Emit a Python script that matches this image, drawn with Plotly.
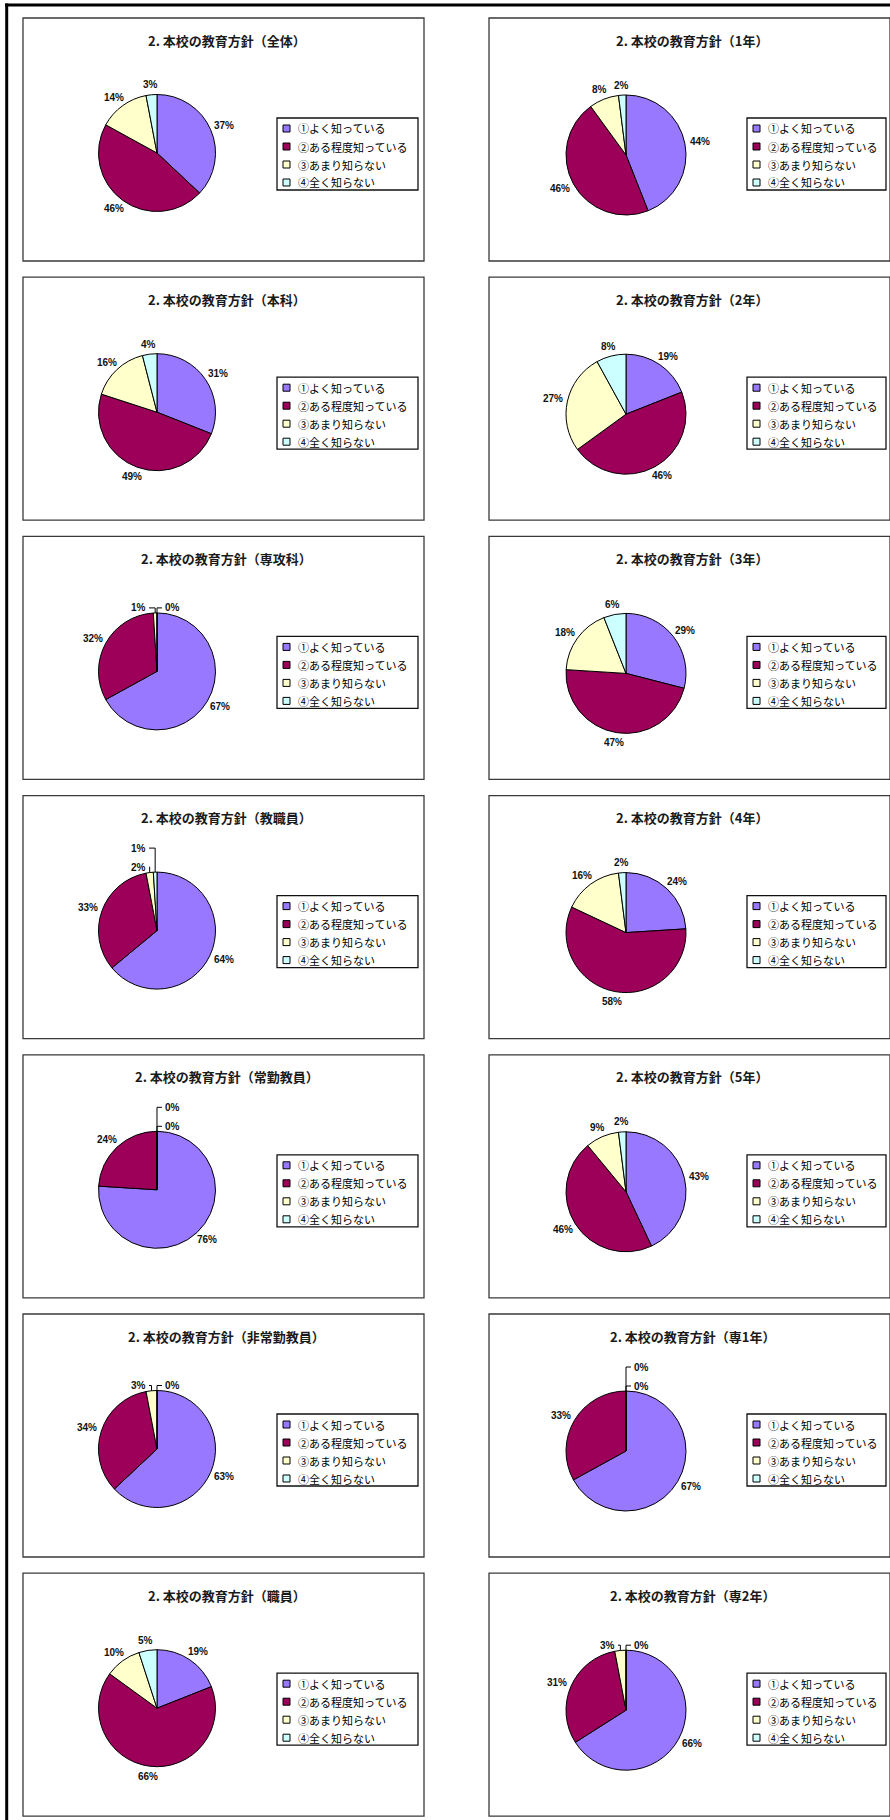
import math
import plotly.graph_objects as go

W, H = 890, 1820

# ---- data -------------------------------------------------------------
categories = ["①よく知っている", "②ある程度知っている", "③あまり知らない", "④全く知らない"]
colors = ["#9878FF", "#9C0058", "#FFFFCC", "#CCFFFF"]

title_prefix = "2. 本校の教育方針"
left_groups = ["全体", "本科", "専攻科", "教職員", "常勤教員", "非常勤教員", "職員"]
right_groups = ["1年", "2年", "3年", "4年", "5年", "専1年", "専2年"]

zentai = [37, 46, 14, 3]
honka = [31, 49, 16, 4]
senkoka = [67, 32, 1, 0]
kyoshokuin = [64, 33, 2, 1]
jokin_kyoin = [76, 24, 0, 0]
hijokin_kyoin = [63, 34, 3, 0]
shokuin = [19, 66, 10, 5]

nen1 = [44, 46, 8, 2]
nen2 = [19, 46, 27, 8]
nen3 = [29, 47, 18, 6]
nen4 = [24, 58, 16, 2]
nen5 = [43, 46, 9, 2]
sen1 = [67, 33, 0, 0]
sen2 = [66, 31, 3, 0]

left_values = [zentai, honka, senkoka, kyoshokuin, jokin_kyoin, hijokin_kyoin, shokuin]
right_values = [nen1, nen2, nen3, nen4, nen5, sen1, sen2]

# ---- layout constants (pixels) -----------------------------------------
COLS = [
    dict(x0=23, pie_dx=134, pie_dy=135, r=58.5, leg_dx=254, leg_w=141),
    dict(x0=489, pie_dx=137, pie_dy=137, r=60, leg_dx=258, leg_w=139),
]
PANEL_W, PANEL_H = 401, 243
ROW0, ROW_STEP = 18, 259.2
LEG_DY, LEG_H, LEG_ROW = 100, 72, 18
GAP = 5

TITLE_FONT = dict(family="Noto Sans CJK JP", size=13, color="#1a1a1a", weight="bold")
LABEL_FONT = dict(family="Liberation Sans", size=10, color="#111111", weight="bold")
LEGEND_FONT = dict(family="Noto Sans CJK JP", size=11, color="#000000")


def fx(x):
    return x / W


def fy(y):
    return 1 - y / H


shapes = []
annotations = []
traces = []


def add_text(x, y, text, font, xanchor="center"):
    annotations.append(dict(x=fx(x), y=fy(y), xref="paper", yref="paper", text=text,
                            showarrow=False, xanchor=xanchor, yanchor="middle", font=font))


def add_rect(x0, y0, x1, y1, line_color, line_width, fill=None):
    shapes.append(dict(type="rect", xref="paper", yref="paper",
                       x0=fx(x0), x1=fx(x1), y0=fy(y1), y1=fy(y0),
                       line=dict(color=line_color, width=line_width),
                       fillcolor=fill if fill else "rgba(0,0,0,0)", layer="below" if fill is None else "above"))


def add_leader(pts):
    d = "M " + " L ".join(f"{fx(x):.6f},{fy(y):.6f}" for x, y in pts)
    shapes.append(dict(type="path", xref="paper", yref="paper", path=d,
                       line=dict(color="#000000", width=1), layer="above"))


def place_labels(vals, cx, cy, r):
    total = float(sum(vals))
    items = []
    cum = 0.0
    for v in vals:
        mid = (cum + v / 2.0) / total
        cum += v
        th = 2 * math.pi * mid
        s, c = math.sin(th), math.cos(th)
        w = 5.56 * len(str(v)) + 8.9
        h = 10.0
        items.append(dict(v=v, mid=mid, s=s, c=c, w=w, h=h,
                          x=cx + (r + GAP) * s + w / 2 * s,
                          y=cy - (r + GAP) * c - h / 2 * c))

    def overlap(a, b):
        return abs(a["x"] - b["x"]) < (a["w"] + b["w"]) / 2 and abs(a["y"] - b["y"]) < (a["h"] + b["h"]) / 2

    n = len(items)
    crowded = [i for i in range(n) if any(overlap(items[i], items[j]) for j in range(n) if j != i)]
    left = sorted([i for i in crowded if 0.5 < items[i]["mid"] < 1 - 1e-9], key=lambda i: items[i]["mid"])
    right = [i for i in crowded if i not in left]
    right = sorted(right, key=lambda i: -(items[i]["mid"] if items[i]["mid"] < 1 - 1e-9 else 0.0))
    top = cy - r

    for i, it in enumerate(items):
        if i not in crowded:
            add_text(it["x"], it["y"], f"{it['v']}%", LABEL_FONT)
    # crowded labels near the top are stacked and tied to their slice by elbow leaders
    for side, group in (("left", left), ("right", right)):
        for k, i in enumerate(group):
            it = items[i]
            ly = top - 5 - k * 19
            ax = cx + r * it["s"]
            ay = cy - r * it["c"]
            if side == "left":
                add_text(cx - 9, ly, f"{it['v']}%", LABEL_FONT, xanchor="right")
                add_leader([(cx - 8, ly), (ax, ly), (ax, ay)])
            else:
                add_text(cx + 6, ly, f"{it['v']}%", LABEL_FONT, xanchor="left")
                add_leader([(cx + 5, ly), (ax, ly), (ax, ay)])


for col, (groups, values) in enumerate(((left_groups, left_values), (right_groups, right_values))):
    g = COLS[col]
    for row, (name, vals) in enumerate(zip(groups, values)):
        x0 = g["x0"]
        y0 = ROW0 + row * ROW_STEP
        # panel frame
        add_rect(x0, y0, x0 + PANEL_W, y0 + PANEL_H, "#3a3a3a", 1.3)
        # title
        add_text(x0 + PANEL_W / 2 + 3, y0 + 22, f"{title_prefix}（{name}）", TITLE_FONT)
        # pie
        cx, cy, r = x0 + g["pie_dx"], y0 + g["pie_dy"], g["r"]
        traces.append(go.Pie(
            values=vals, labels=categories, sort=False, direction="clockwise", rotation=0,
            marker=dict(colors=colors, line=dict(color="#000000", width=1)),
            textinfo="none", hoverinfo="label+value", showlegend=False,
            domain=dict(x=[fx(cx - r), fx(cx + r)], y=[fy(cy + r), fy(cy - r)]),
        ))
        place_labels(vals, cx, cy, r)
        # legend box
        lx0 = x0 + g["leg_dx"]
        ly0 = y0 + LEG_DY
        add_rect(lx0, ly0, lx0 + g["leg_w"], ly0 + LEG_H, "#111111", 1.3)
        for k, (cat, colr) in enumerate(zip(categories, colors)):
            yc = ly0 + 10.5 + k * LEG_ROW
            add_rect(lx0 + 6, yc - 3.5, lx0 + 13, yc + 3.5, "#000000", 1, fill=colr)
            add_text(lx0 + 19, yc, cat, LEGEND_FONT, xanchor="left")

# outer page frame (top and left edges)
shapes.append(dict(type="line", xref="paper", yref="paper", x0=fx(5), x1=fx(W), y0=fy(5), y1=fy(5),
                   line=dict(color="#000000", width=3)))
shapes.append(dict(type="line", xref="paper", yref="paper", x0=fx(6.7), x1=fx(6.7), y0=fy(3.5), y1=fy(H),
                   line=dict(color="#000000", width=3)))

fig = go.Figure(data=traces)
fig.update_layout(
    width=W, height=H, margin=dict(l=0, r=0, t=0, b=0),
    paper_bgcolor="#FFFFFF", plot_bgcolor="#FFFFFF",
    shapes=shapes, annotations=annotations, showlegend=False,
)
fig.write_html("out.html")
